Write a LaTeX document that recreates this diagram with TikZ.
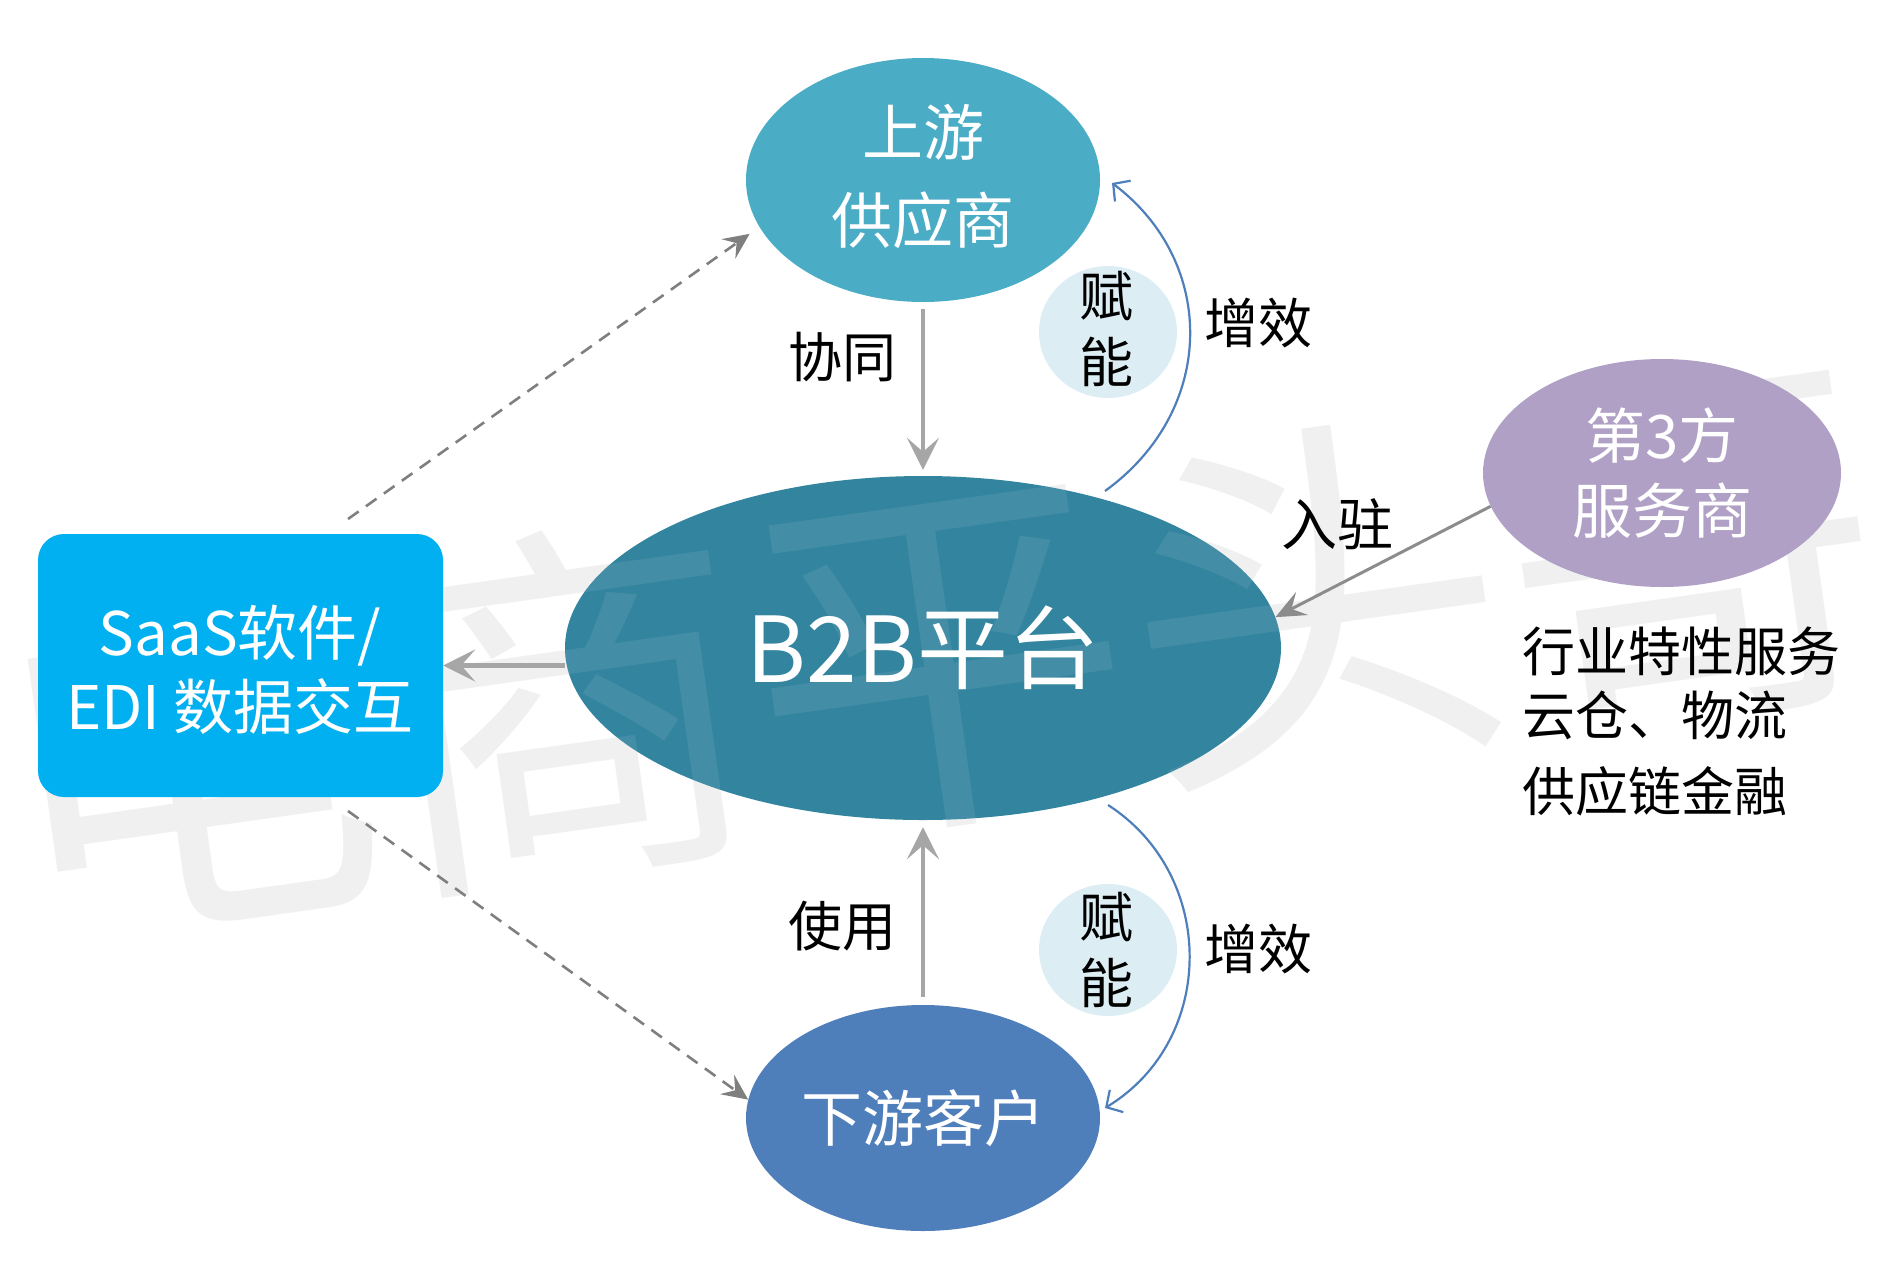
\documentclass[tikz,border=0pt]{standalone}
\usepackage{fontspec}
\setmainfont{Noto Sans CJK SC}
\usetikzlibrary{shapes.geometric,arrows.meta}
\definecolor{cUp}{HTML}{4BACC6}
\definecolor{cMain}{HTML}{33849F}
\definecolor{cDown}{HTML}{4F7FBB}
\definecolor{cThird}{HTML}{B0A0C6}
\definecolor{cBox}{HTML}{00B0F0}
\definecolor{cPale}{HTML}{DCEEF4}
\definecolor{cGrey}{HTML}{A6A6A6}
\definecolor{cDash}{HTML}{7F7F7F}
\definecolor{cWm}{HTML}{F0F0F0}
\newcommand{\sz}[2]{\fontsize{#1}{#2}\selectfont}
\tikzset{
  oval/.style={ellipse,inner sep=0pt,text=white,align=center,draw=none},
  wtext/.style={inner sep=0pt,text=white,align=center},
  labeltext/.style={inner sep=0pt,text=black,align=center,font=\sz{54}{66}},
  listtext/.style={inner sep=0pt,text=black,font=\sz{53}{62},anchor=west},
  greyarrow/.style={draw=cGrey,line width=4.5pt,-{Stealth[length=32pt,width=32pt,inset=14pt]}},
  thinarrow/.style={draw=cDash!90,line width=3pt,-{Stealth[length=30pt,width=26pt,inset=12pt]}},
  dashedarrow/.style={draw=cDash,line width=2.6pt,dash pattern=on 13pt off 9pt,-{Stealth[length=26pt,width=24pt,inset=10pt]}},
  bluearrow/.style={draw=cDown,line width=2.2pt,-{Straight Barb[length=12pt,width=26pt]}},
  watermark/.style={inner sep=0pt,rotate=8,font=\sz{380}{380}}
}
\begin{document}
\begin{tikzpicture}[x=1pt,y=-1pt]
\useasboundingbox (0,0) rectangle (1879,1280);
\clip (0,0) rectangle (1879,1280);
\node[watermark,text=cWm] (wmA) at (938,652) {电商平头哥};
% ovals
\node[oval,fill=cUp,minimum width=354pt,minimum height=244pt] (up) at (923,180) {};
\node[wtext,font=\sz{61}{88}] (upText) at (923,176) {上游\\供应商};
\node[oval,fill=cMain,minimum width=716pt,minimum height=344pt,font=\sz{91}{100}] (main) at (923,648) {B2B平台};
\node[oval,fill=cDown,minimum width=354pt,minimum height=226pt,font=\sz{61}{70}] (down) at (923,1118) {下游客户};
\node[oval,fill=cThird,minimum width=358pt,minimum height=228pt,font=\sz{60}{75}] (third) at (1662,473) {第3方\\服务商};
\node[rectangle,rounded corners=26pt,fill=cBox,minimum width=405pt,minimum height=263pt] (saas) at (240.5,665.5) {};
\node[wtext,font=\sz{60}{74}] (saasText) at (240,670) {SaaS软件/\\EDI 数据交互};
\node[oval,fill=cPale,minimum width=138pt,minimum height=132pt] (fuA) at (1108,332) {};
\node[oval,fill=cPale,minimum width=138pt,minimum height=132pt] (fuB) at (1108,950) {};
\node[labeltext] (fuAText) at (1106,329) {赋\\能};
\node[labeltext] (fuBText) at (1106,950) {赋\\能};
% watermark over the main oval
\begin{scope}
\clip (923,648) ellipse [x radius=358,y radius=172];
\node[watermark,text=white,opacity=.08] (wmB) at (938,652) {电商平头哥};
\end{scope}
% connectors
\draw[greyarrow,shorten <=7pt,shorten >=6pt] (up.south) -- (main.north);
\draw[greyarrow,shorten <=8pt,shorten >=7pt] (down.north) -- (main.south);
\draw[greyarrow] (main.west |- saas.east) -- (saas.east);
\draw[thinarrow] (third.191) -- (main.5);
\coordinate (dashTop) at (348,519);
\coordinate (dashBot) at (348,811);
\draw[dashedarrow,shorten >=12pt] (dashTop) -- (up.196);
\draw[dashedarrow] (dashBot) -- (down.174);
\coordinate (arcTopA) at (1105,491);
\coordinate (arcTopB) at (1112,183);
\coordinate (arcBotA) at (1108,805);
\coordinate (arcBotB) at (1105,1108);
\draw[bluearrow] (arcTopA) .. controls (1217,410) and (1217,262) .. (arcTopB);
\draw[bluearrow] (arcBotA) .. controls (1217,875) and (1217,1040) .. (arcBotB);
% labels
\node[labeltext] (tXt) at (842,357) {协同};
\node[labeltext] (tSy) at (842,926) {使用};
\node[labeltext] (tZa) at (1258,323) {增效};
\node[labeltext] (tZb) at (1258,949) {增效};
\node[labeltext,font=\sz{56}{62}] (tRz) at (1337,524) {入驻};
\node[listtext] (lA) at (1522,651) {行业特性服务};
\node[listtext] (lB) at (1522,715) {云仓、物流};
\node[listtext] (lC) at (1522,791) {供应链金融};
\end{tikzpicture}
\end{document}
